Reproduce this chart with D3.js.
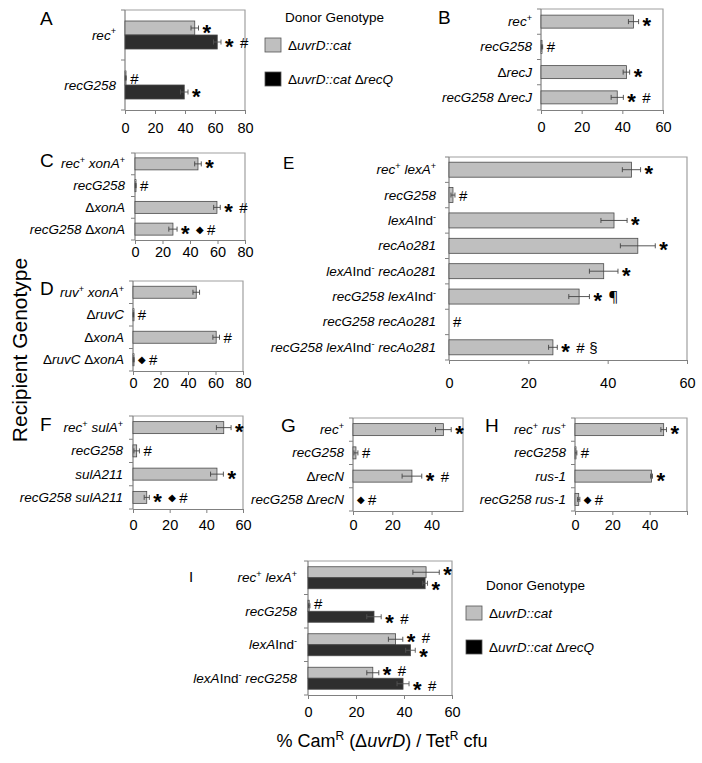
<!DOCTYPE html>
<html><head><meta charset="utf-8">
<script src="https://cdn.jsdelivr.net/npm/d3@7"></script>
<style>body{margin:0;background:#fff}svg{display:block}</style>
</head><body>
<svg id="c" width="702" height="763"></svg>
<script>
// ---------------- DATA ----------------
// Panel A
const catsA = ["rec^+", "recG258"];
const grayA = [46.5, 0.5], errGrayA = [2.5, 0.3], markGrayA = ["*", "#"];
const blackA = [61.5, 39.5], errBlackA = [2.5, 2.5], markBlackA = ["* #", "*"];
// Panel B
const catsB = ["rec^+", "recG258", "ΔrecJ", "recG258 ΔrecJ"];
const valsB = [45.5, 0.5, 42, 37.5], errB = [2.5, 0.3, 1.6, 3], markB = ["*", "#", "*", "* #"];
// Panel C
const catsC = ["rec^+ xonA^+", "recG258", "ΔxonA", "recG258 ΔxonA"];
const valsC = [45.8, 0.5, 59.6, 27.6], errC = [2.4, 0.3, 2.4, 3], markC = ["*", "#", "* #", "* ◆ #"];
// Panel D
const catsD = ["ruv^+ xonA^+", "ΔruvC", "ΔxonA", "ΔruvC ΔxonA"];
const valsD = [46, 0.3, 60.5, 0.5], errD = [2.4, 0.2, 2.4, 0.3], markD = ["", "#", "#", "◆ #"];
// Panel E
const catsE = ["rec^+ lexA^+", "recG258", "lexA[Ind]^-", "recAo281", "lexA[Ind]^- recAo281",
  "recG258 lexA[Ind]^-", "recG258 recAo281", "recG258 lexA[Ind]^- recAo281"];
const valsE = [46, 1, 41.6, 47.6, 39, 32.8, 0, 26.2];
const errE = [2.3, 0.5, 3.3, 4.4, 3.6, 2.6, 0, 1.1];
const markE = ["*", "#", "*", "*", "*", "* ¶", "#", "* # §"];
// Panel F
const catsF = ["rec^+ sulA^+", "recG258", "sulA211", "recG258 sulA211"];
const valsF = [49.5, 2, 45.8, 7.5], errF = [4, 1.5, 3.5, 1.4], markF = ["*", "#", "*", "* ◆ #"];
// Panel G
const catsG = ["rec^+", "recG258", "ΔrecN", "recG258 ΔrecN"];
const valsG = [46, 1.5, 30, 0], errG = [4, 1, 5, 0], markG = ["*", "#", "* #", "◆ #"];
// Panel H
const catsH = ["rec^+ rus^+", "recG258", "rus-1", "recG258 rus-1"];
const valsH = [47.5, 0.5, 41, 2], errH = [1.5, 0.5, 0.5, 0.6], markH = ["*", "#", "*", "◆ #"];
// Panel I
const catsI = ["rec^+ lexA^+", "recG258", "lexA[Ind]^-", "lexA[Ind]^- recG258"];
const grayI = [49.2, 0.5, 36.5, 27], errGrayI = [5.5, 0.3, 3, 2.5], markGrayI = ["*", "#", "* #", "* #"];
const blackI = [48.8, 27.5, 42.7, 39.6], errBlackI = [1, 3, 2, 2.5], markBlackI = ["*", "* #", "*", "* #"];
// Ticks
const ticks80 = [0, 20, 40, 60, 80];
const ticks60 = [0, 20, 40, 60];
const ticks40 = [0, 20, 40];
const legendItems = ["Δ{uvrD::cat}", "Δ{uvrD::cat} Δ{recQ}"];

// ---------------- DRAWING ----------------
const FONT = '"Liberation Sans", Arial, Helvetica, sans-serif';
const GRAY = "#bfbfbf", BLACK = "#2e2e2e", EDGE = "#4a4a4a";
const svg = d3.select("#c");

function rich(sel, str, size) {
  const segs = [];
  let i = 0;
  while (i < str.length) {
    const ch = str[i];
    if (ch === "^") { segs.push({t: str[i + 1], up: true, sup: true}); i += 2; continue; }
    if (ch === "[") { const j = str.indexOf("]", i); segs.push({t: str.slice(i + 1, j), up: true}); i = j + 1; continue; }
    if (ch === "Δ") { segs.push({t: "Δ", up: true}); i++; continue; }
    const last = segs[segs.length - 1];
    if (last && !last.up && !last.sup) last.t += ch; else segs.push({t: ch, up: false});
    i++;
  }
  let prevSup = false;
  segs.forEach(s => {
    const ts = sel.append("tspan").text(s.t)
      .attr("font-style", s.up && !s.sup ? "normal" : "italic");
    if (s.sup) { ts.attr("font-size", size * 0.68).attr("dy", -size * 0.38).attr("font-style", "normal"); prevSup = true; }
    else if (prevSup) { ts.attr("dy", size * 0.38); prevSup = false; }
  });
}

const markSpec = {
  "*": {size: 22, weight: "bold", dy: 11.5, adv: 15, font: FONT},
  "#": {size: 15, weight: "normal", dy: 5.5, adv: 13, font: FONT},
  "◆": {size: 10, weight: "normal", dy: 3.5, adv: 11, font: '"DejaVu Sans", sans-serif'},
  "¶": {size: 15, weight: "normal", dy: 5.5, adv: 12, font: '"Noto Sans", sans-serif'},
  "§": {size: 15, weight: "normal", dy: 5.5, adv: 12, font: FONT}
};
function marks(g, x0, yc, str) {
  let x = x0;
  str.split(" ").filter(Boolean).forEach(tok => {
    const s = markSpec[tok];
    g.append("text").attr("x", x).attr("y", yc + s.dy).text(tok)
      .attr("font-size", s.size).attr("font-weight", s.weight)
      .attr("font-family", s.font).attr("fill", "#000");
    x += s.adv;
  });
}

function panel(cfg) {
  const g = svg.append("g");
  const x = d3.scaleLinear().domain([0, cfg.max]).range([cfg.left, cfg.right]);
  const y = d3.scaleBand().domain(cfg.cats).range([cfg.top, cfg.bottom]);
  g.append("path").attr("d", `M${cfg.left},${cfg.top}H${cfg.right}V${cfg.bottom}`)
    .attr("fill", "none").attr("stroke", "#a0a0a0").attr("stroke-width", 1.2);
  const ax = d3.axisBottom(x).tickValues(cfg.ticks).tickSize(4).tickSizeOuter(0)
    .tickFormat(d => (cfg.tickLabels || cfg.ticks).includes(d) ? d : "");
  const axg = g.append("g").attr("transform", `translate(0,${cfg.bottom})`).call(ax);
  axg.select(".domain").attr("stroke", "#808080").attr("stroke-width", 1.2);
  axg.selectAll(".tick line").attr("stroke", "#808080");
  axg.selectAll(".tick text").attr("font-size", 14.5).attr("font-family", FONT).attr("fill", "#000")
    .attr("y", cfg.tickY - cfg.bottom).attr("dy", "0.36em");
  g.append("line").attr("x1", cfg.left).attr("x2", cfg.left).attr("y1", cfg.top).attr("y2", cfg.bottom)
    .attr("stroke", "#808080").attr("stroke-width", 1.2);
  const bounds = cfg.cats.map(c => y(c)).concat([cfg.bottom]);
  g.selectAll(".lt").data(bounds).join("line")
    .attr("x1", cfg.left - 4).attr("x2", cfg.left).attr("y1", d => d).attr("y2", d => d)
    .attr("stroke", "#808080");
  const nS = cfg.series.length, bh = cfg.barH;
  cfg.series.forEach((s, si) => {
    cfg.cats.forEach((c, ci) => {
      const v = s.vals[ci], e = s.errs[ci];
      const yc0 = y(c) + y.bandwidth() / 2;
      const yb = nS === 1 ? yc0 - bh / 2 : yc0 - bh + si * bh;
      const yc = yb + bh / 2;
      if (v > 0) {
        g.append("rect").attr("x", x(0)).attr("y", yb).attr("width", Math.max(x(v) - x(0), 1)).attr("height", bh)
          .attr("fill", s.fill).attr("stroke", EDGE).attr("stroke-width", 0.8);
      }
      if (e > 0) {
        const xl = Math.max(x(v - e), x(0)), xr = x(v + e);
        const eg = g.append("g").attr("stroke", s.fill === BLACK ? "#555" : "#444").attr("stroke-width", 0.9);
        eg.append("line").attr("x1", xl).attr("x2", xr).attr("y1", yc).attr("y2", yc);
        eg.append("line").attr("x1", xr).attr("x2", xr).attr("y1", yc - 2.5).attr("y2", yc + 2.5);
        if (v - e > 0) eg.append("line").attr("x1", xl).attr("x2", xl).attr("y1", yc - 2.5).attr("y2", yc + 2.5);
      }
      if (s.marks[ci]) marks(g, x(v + e) + 4, yc + (s.markDy || 0), s.marks[ci]);
    });
  });
  cfg.cats.forEach(c => {
    const t = g.append("text").attr("x", cfg.left - cfg.labelGap).attr("y", y(c) + y.bandwidth() / 2 + 4.5)
      .attr("text-anchor", "end").attr("font-size", 13.5).attr("font-family", FONT).attr("fill", "#000");
    rich(t, c, 13.5);
  });
  g.append("text").attr("x", cfg.lx).attr("y", cfg.ly).text(cfg.letter)
    .attr("font-size", cfg.lsize || 19).attr("font-family", FONT).attr("fill", "#000");
}

function legend(x, y) {
  const g = svg.append("g");
  g.append("text").attr("x", x + 20).attr("y", y).text("Donor Genotype")
    .attr("font-size", 13.5).attr("font-family", FONT);
  [GRAY, "#000"].forEach((f, i) => {
    const yy = y + 16 + i * 34;
    g.append("rect").attr("x", x).attr("y", yy).attr("width", 16).attr("height", 14)
      .attr("fill", f).attr("stroke", "#555").attr("stroke-width", 0.8);
    const t = g.append("text").attr("x", x + 23).attr("y", yy + 11.5)
      .attr("font-size", 13.5).attr("font-family", FONT);
    legendItems[i].split(/(\{[^}]*\})/).filter(Boolean).forEach(p => {
      if (p[0] === "{") t.append("tspan").attr("font-style", "italic").text(p.slice(1, -1));
      else t.append("tspan").text(p);
    });
  });
}

panel({letter: "A", lx: 40, ly: 25, left: 125, right: 245, top: 10, bottom: 110, max: 80, ticks: ticks80, tickY: 128,
  cats: catsA, barH: 14, labelGap: 9,
  series: [{vals: grayA, errs: errGrayA, marks: markGrayA, fill: GRAY},
           {vals: blackA, errs: errBlackA, marks: markBlackA, fill: BLACK}]});
panel({letter: "B", lx: 438, ly: 24, left: 541, right: 663, top: 9, bottom: 110, max: 60, ticks: ticks60, tickY: 127,
  cats: catsB, barH: 13, labelGap: 9, series: [{vals: valsB, errs: errB, marks: markB, fill: GRAY}]});
panel({letter: "C", lx: 40, ly: 167, left: 135, right: 245, top: 153, bottom: 240, max: 80, ticks: ticks80, tickY: 252,
  cats: catsC, barH: 12, labelGap: 10, series: [{vals: valsC, errs: errC, marks: markC, fill: GRAY}]});
panel({letter: "D", lx: 40, ly: 295, left: 133, right: 243, top: 281, bottom: 371, max: 80, ticks: ticks80, tickY: 383,
  cats: catsD, barH: 12, labelGap: 9, series: [{vals: valsD, errs: errD, marks: markD, fill: GRAY}]});
panel({letter: "E", lx: 283, ly: 169, lsize: 17, left: 449, right: 687, top: 157, bottom: 360, max: 60, ticks: ticks60, tickY: 383,
  cats: catsE, barH: 15, labelGap: 13, series: [{vals: valsE, errs: errE, marks: markE, fill: GRAY}]});
panel({letter: "F", lx: 40, ly: 431, left: 133, right: 243, top: 416, bottom: 509, max: 60, ticks: ticks60, tickY: 525,
  cats: catsF, barH: 12, labelGap: 10, series: [{vals: valsF, errs: errF, marks: markF, fill: GRAY}]});
panel({letter: "G", lx: 281, ly: 432, left: 353, right: 463, top: 418, bottom: 511, max: 56, ticks: ticks40, tickY: 525,
  cats: catsG, barH: 12, labelGap: 9, series: [{vals: valsG, errs: errG, marks: markG, fill: GRAY}]});
panel({letter: "H", lx: 485, ly: 432, left: 575, right: 687, top: 418, bottom: 511, max: 60, ticks: ticks60, tickLabels: ticks40, tickY: 525,
  cats: catsH, barH: 12, labelGap: 9, series: [{vals: valsH, errs: errH, marks: markH, fill: GRAY}]});
panel({letter: "I", lx: 189, ly: 582, lsize: 15, left: 308, right: 452, top: 561, bottom: 695, max: 60, ticks: ticks60, tickY: 712,
  cats: catsI, barH: 11, labelGap: 11,
  series: [{vals: grayI, errs: errGrayI, marks: markGrayI, fill: GRAY, markDy: -2},
           {vals: blackI, errs: errBlackI, marks: markBlackI, fill: BLACK, markDy: 2}]});

legend(265, 22);
legend(466, 590);

svg.append("text").attr("transform", "translate(27,350) rotate(-90)").attr("text-anchor", "middle")
  .attr("font-size", 21).attr("font-family", FONT).text("Recipient Genotype");
const xt = svg.append("text").attr("x", 382).attr("y", 747).attr("text-anchor", "middle")
  .attr("font-size", 18).attr("font-family", FONT);
xt.append("tspan").text("% Cam");
xt.append("tspan").text("R").attr("font-size", 12).attr("dy", -7);
xt.append("tspan").text(" (Δ").attr("dy", 7);
xt.append("tspan").text("uvrD").attr("font-style", "italic");
xt.append("tspan").text(") / Tet");
xt.append("tspan").text("R").attr("font-size", 12).attr("dy", -7);
xt.append("tspan").text(" cfu").attr("dy", 7);
</script>
</body></html>
